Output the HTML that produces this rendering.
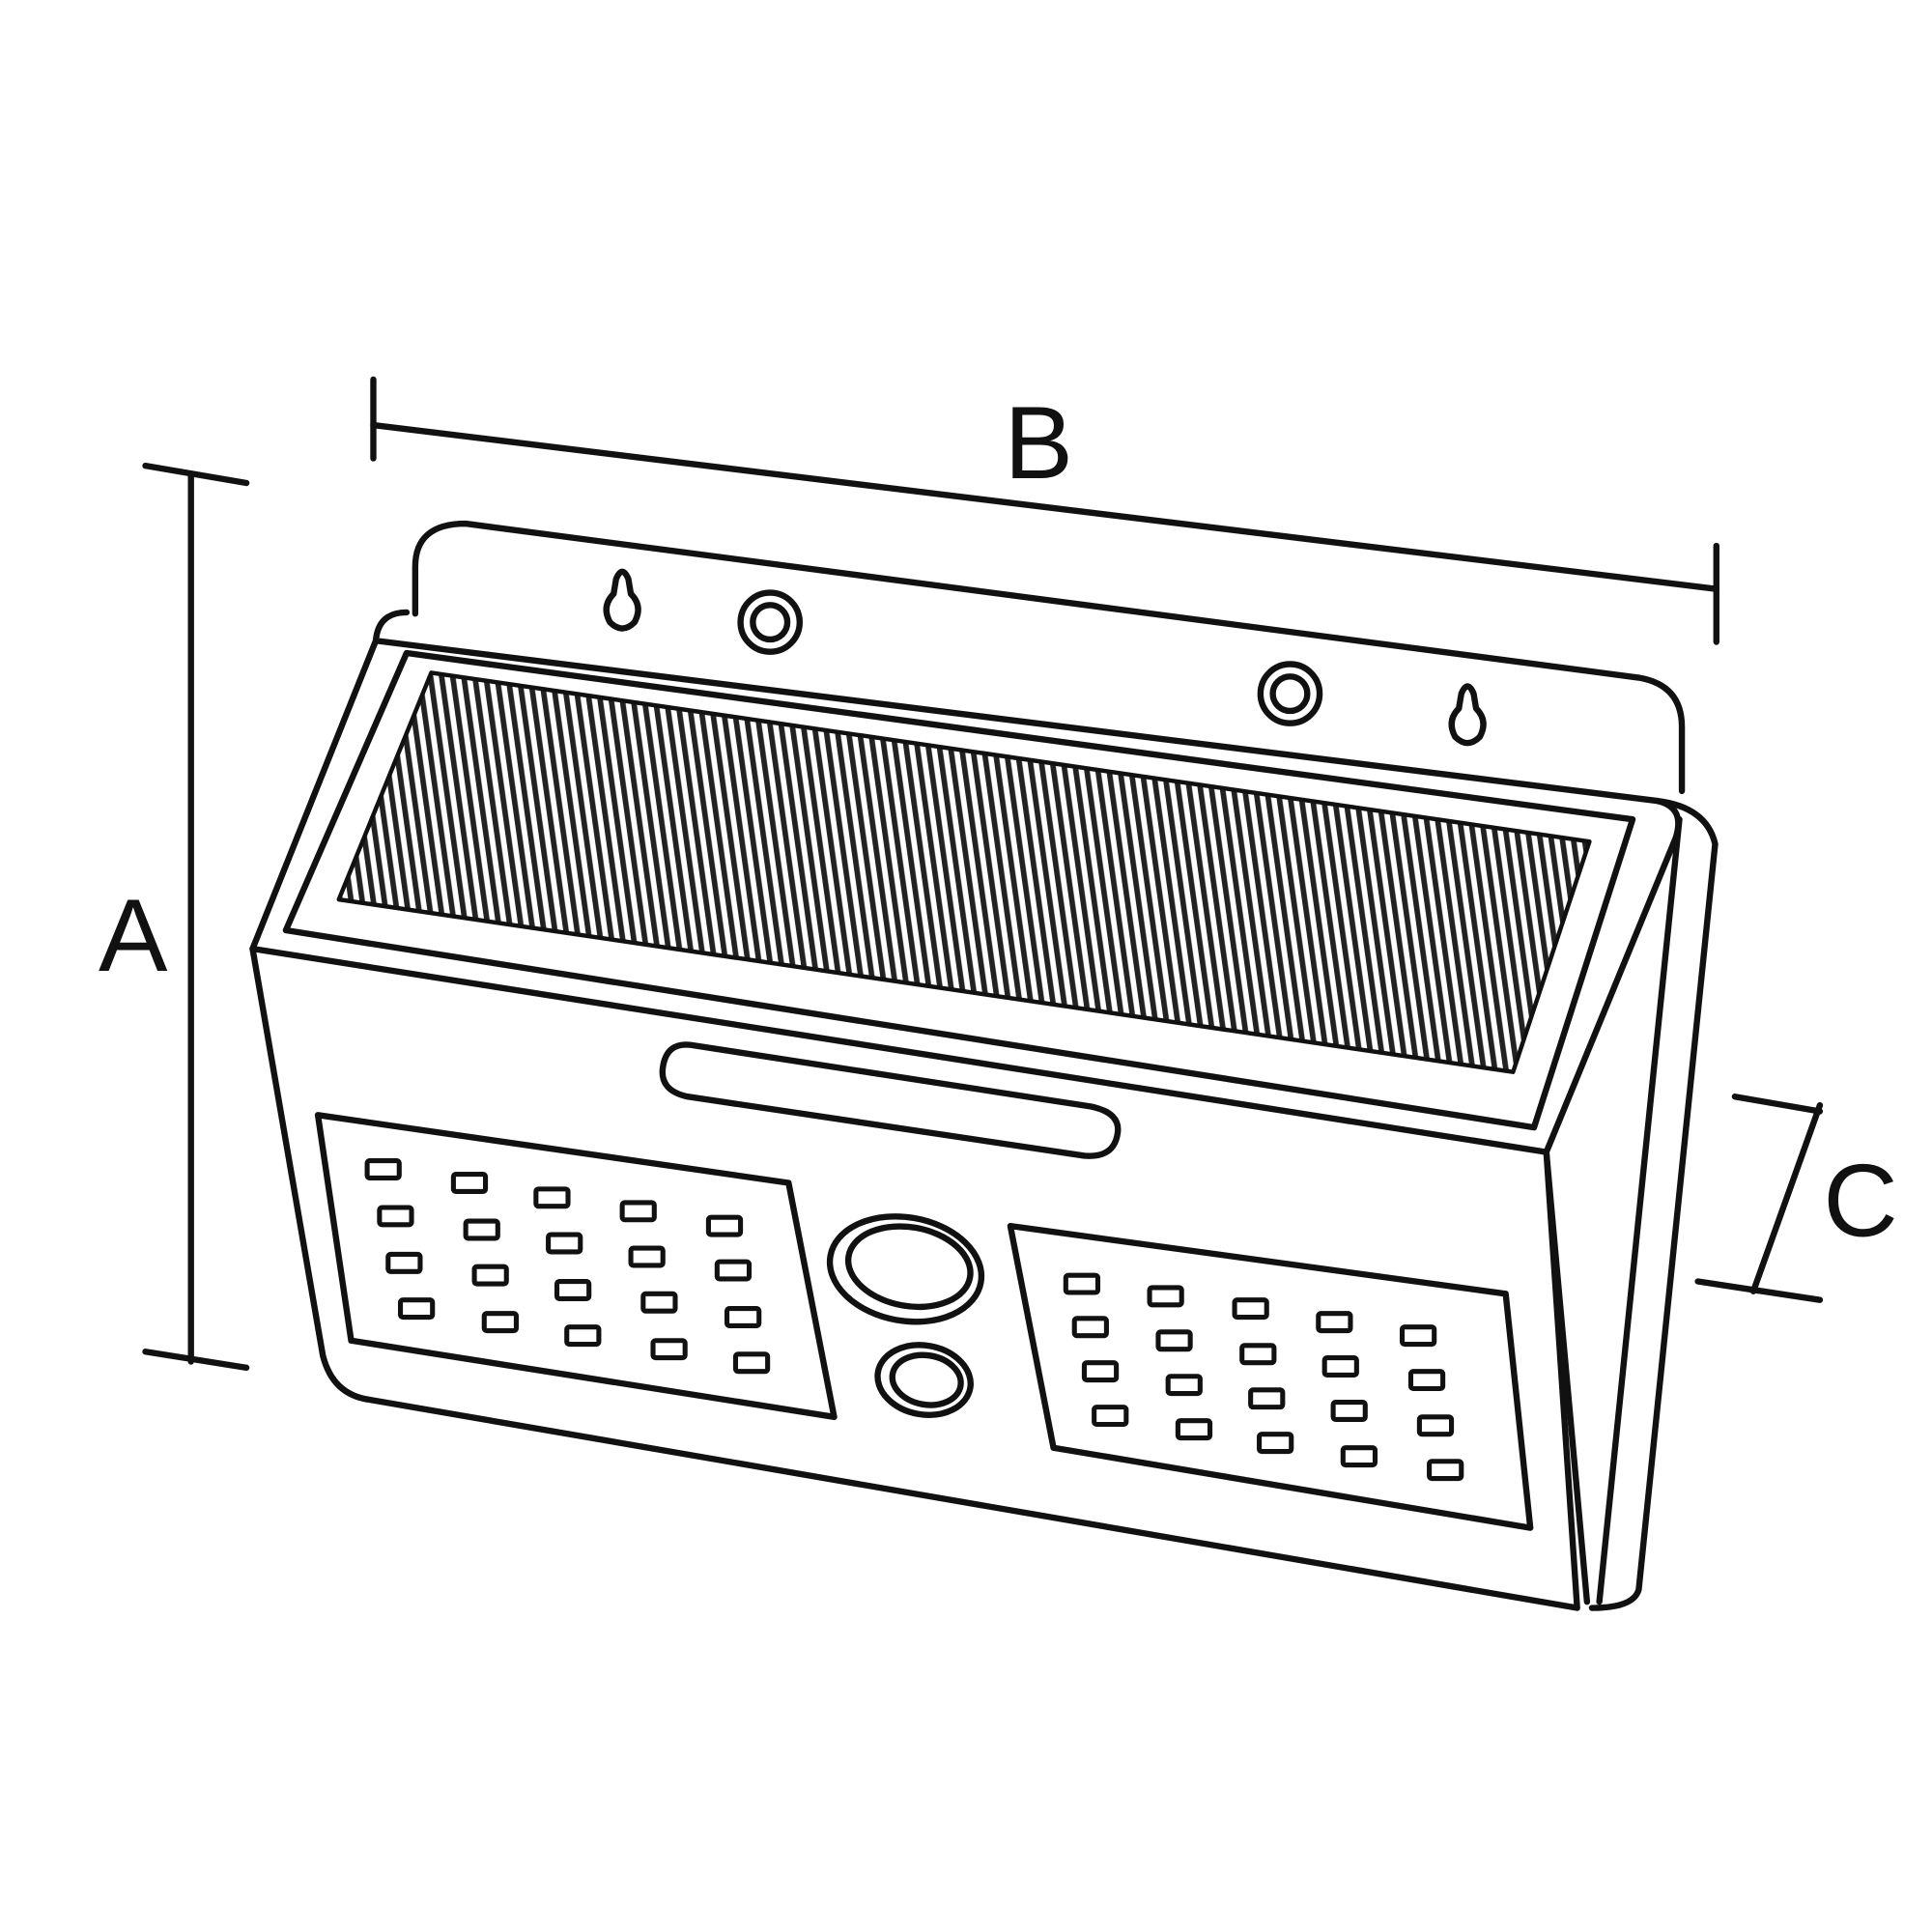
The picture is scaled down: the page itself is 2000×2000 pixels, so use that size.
<!DOCTYPE html>
<html><head><meta charset="utf-8"><style>
html,body{margin:0;padding:0;background:#fff;}
svg{display:block;}
text{font-family:"Liberation Sans",sans-serif;}
</style></head><body>
<svg width="2000" height="2000" viewBox="0 0 1568 1568" xmlns="http://www.w3.org/2000/svg">
<defs>
<pattern id="hatch" width="9" height="20" patternUnits="userSpaceOnUse" patternTransform="skewX(8)">
<rect x="0" y="0" width="4.5" height="20" fill="#222"/>
</pattern>
</defs>
<rect width="1568" height="1568" fill="#fff"/>
<g fill="none" stroke="#111" stroke-width="5" stroke-linejoin="round" stroke-linecap="round">
<line x1="303" y1="308" x2="303" y2="372"/>
<line x1="1393" y1="443" x2="1393" y2="521"/>
<line x1="303" y1="345" x2="1393" y2="478"/>
<line x1="155" y1="385" x2="155" y2="1105"/>
<line x1="118" y1="378" x2="200" y2="392"/>
<line x1="118" y1="1097" x2="200" y2="1110"/>
<line x1="1408" y1="890" x2="1477" y2="902"/>
<line x1="1378" y1="1040" x2="1477" y2="1055"/>
<line x1="1477" y1="897" x2="1423" y2="1048"/>
<path d="M337,498 L337,460 Q337,425 378,425 L1330,550 Q1365,556 1365,590 L1365,642"/>
<path d="M1345,650 Q1385,655 1392,685 L1330,1290 Q1326,1305 1292,1305"/>
<path d="M1363,665 L1298,1300"/>
<path d="M330,497 Q307,497 305,520 L1345,650 Q1368,655 1360,680 L1255,935 L205,770 L305,520"/>
<path d="M205,770 L262,1100 Q270,1132 300,1136 L1280,1305 L1255,935"/>
<path d="M1255,935 L1288,1300"/>
<path d="M330,530 L1325,665 L1245,915 L232,755 Z" fill="#fff"/>
<path d="M350,546 L1290,683 L1228,870 L275,730 Z" fill="url(#hatch)" stroke-width="3.5"/>
<path d="M560,848 L885,898 Q910,903 907,920 Q904,940 880,938 L558,890 Q535,885 538,866 Q541,846 560,848 Z"/>
<path d="M258,905 L640,960 L677,1150 L285,1088 Z"/>
<path d="M820,995 L1222,1050 L1242,1240 L855,1175 Z"/>
<ellipse cx="735" cy="1030" rx="62" ry="42" transform="rotate(10 735 1030)"/>
<ellipse cx="738" cy="1028" rx="50" ry="32" transform="rotate(10 738 1028)"/>
<ellipse cx="750" cy="1120" rx="38" ry="28" transform="rotate(10 750 1120)"/>
<ellipse cx="752" cy="1120" rx="28" ry="20" transform="rotate(10 752 1120)"/>
<path d="M500,470 Q505,458 510,470 L512,482 Q522,492 515,505 Q505,515 495,505 Q488,492 498,482 Z"/>
<path d="M1186,563 Q1191,551 1196,563 L1198,575 Q1208,585 1201,598 Q1191,608 1181,598 Q1174,585 1184,575 Z"/>
<circle cx="625" cy="505" r="24"/><circle cx="625" cy="505" r="14"/>
<circle cx="1047" cy="563" r="24"/><circle cx="1047" cy="563" r="14"/>
</g>
<g fill="none" stroke="#111" stroke-width="4">
<rect x="298" y="942" width="26" height="14" rx="2"/><rect x="368" y="953" width="26" height="14" rx="2"/><rect x="435" y="965" width="26" height="14" rx="2"/><rect x="505" y="976" width="26" height="14" rx="2"/><rect x="575" y="988" width="26" height="14" rx="2"/>
<rect x="308" y="980" width="26" height="14" rx="2"/><rect x="378" y="991" width="26" height="14" rx="2"/><rect x="445" y="1002" width="26" height="14" rx="2"/><rect x="512" y="1013" width="26" height="14" rx="2"/><rect x="582" y="1024" width="26" height="14" rx="2"/>
<rect x="315" y="1018" width="26" height="14" rx="2"/><rect x="385" y="1028" width="26" height="14" rx="2"/><rect x="452" y="1040" width="26" height="14" rx="2"/><rect x="522" y="1050" width="26" height="14" rx="2"/><rect x="590" y="1062" width="26" height="14" rx="2"/>
<rect x="325" y="1055" width="26" height="14" rx="2"/><rect x="393" y="1066" width="26" height="14" rx="2"/><rect x="460" y="1077" width="26" height="14" rx="2"/><rect x="530" y="1088" width="26" height="14" rx="2"/><rect x="597" y="1099" width="26" height="14" rx="2"/>
<rect x="865" y="1035" width="26" height="14" rx="2"/><rect x="933" y="1045" width="26" height="14" rx="2"/><rect x="1002" y="1055" width="26" height="14" rx="2"/><rect x="1070" y="1066" width="26" height="14" rx="2"/><rect x="1138" y="1077" width="26" height="14" rx="2"/>
<rect x="872" y="1070" width="26" height="14" rx="2"/><rect x="940" y="1081" width="26" height="14" rx="2"/><rect x="1008" y="1092" width="26" height="14" rx="2"/><rect x="1075" y="1102" width="26" height="14" rx="2"/><rect x="1145" y="1113" width="26" height="14" rx="2"/>
<rect x="880" y="1106" width="26" height="14" rx="2"/><rect x="948" y="1117" width="26" height="14" rx="2"/><rect x="1015" y="1128" width="26" height="14" rx="2"/><rect x="1082" y="1138" width="26" height="14" rx="2"/><rect x="1152" y="1150" width="26" height="14" rx="2"/>
<rect x="888" y="1142" width="26" height="14" rx="2"/><rect x="956" y="1153" width="26" height="14" rx="2"/><rect x="1022" y="1164" width="26" height="14" rx="2"/><rect x="1090" y="1175" width="26" height="14" rx="2"/><rect x="1160" y="1186" width="26" height="14" rx="2"/>
</g>
<text x="843" y="388" font-size="84" text-anchor="middle" fill="#111">B</text>
<text x="108" y="788" font-size="84" text-anchor="middle" fill="#111">A</text>
<text x="1510" y="1003" font-size="84" text-anchor="middle" fill="#111">C</text>
</svg>
</body></html>
